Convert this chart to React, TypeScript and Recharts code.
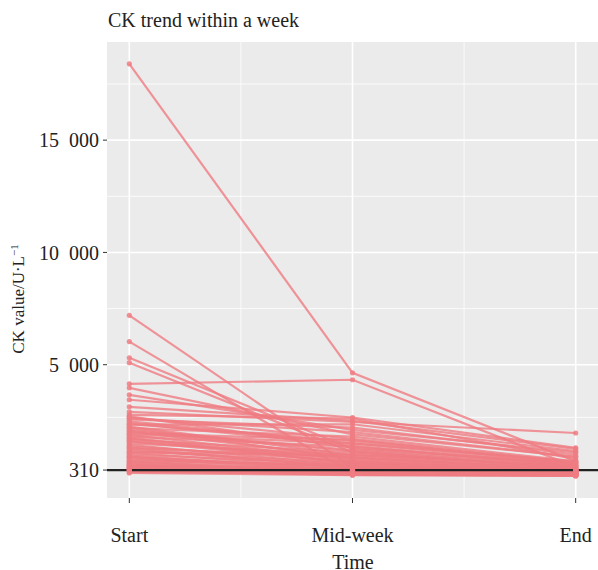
import { LineChart, Line, XAxis, YAxis, CartesianGrid, ReferenceLine } from 'recharts';

const categories = ['Start', 'Mid-week', 'End'];

const startValues = [
  18400, 7200, 6030, 5310, 5090, 4150, 3970, 3660, 3440, 3125,
  2900, 2770, 2650, 2560, 2480, 2400, 2330, 2250, 2180, 2100,
  2020, 1950, 1880, 1800, 1720, 1650, 1580, 1500, 1430, 1360,
  1290, 1220, 1150, 1080, 1010, 950, 890, 830, 770, 710,
  650, 600, 550, 500, 460, 420, 380, 340, 320,
  2700, 2200, 1900, 1600, 1300, 1100, 900, 700, 560, 480,
  400, 300, 260, 220, 180, 2620, 2350, 2050, 1750,
];
const midValues = [
  4640, 420, 150, 1250, 1100, 4330, 1900, 2100, 2650, 2500,
  2450, 2600, 1700, 2200, 1500, 1400, 2350, 980, 1800, 1200,
  900, 1650, 760, 1350, 600, 1100, 850, 1000, 520, 700,
  880, 450, 640, 380, 560, 300, 420, 250, 490, 180,
  330, 260, 200, 350, 140, 230, 120, 170, 90,
  1300, 800, 1500, 650, 420, 980, 300, 540, 210, 380,
  150, 240, 110, 160, 80, 2000, 1600, 1150, 700,
];
const endValues = [
  700, 260, 120, 500, 380, 450, 900, 1100, 1300, 1250,
  1960, 800, 650, 1000, 560, 480, 1150, 320, 700, 420,
  300, 600, 260, 520, 210, 400, 350, 450, 180, 280,
  330, 160, 240, 150, 200, 110, 170, 100, 190, 80,
  130, 120, 90, 150, 70, 100, 60, 80, 50,
  600, 350, 700, 280, 230, 480, 140, 300, 120, 200,
  90, 130, 70, 100, 60, 900, 620, 380, 250,
];

const yTicks = [310, 5000, 10000, 15000];
const yMinor = [2655, 7500, 12500, 17500];
const xTicks = [1, 2, 3];
const xMinor = [1.5, 2.5];

const patients = startValues.map((s, i) => [
  { x: 1, y: s },
  { x: 2, y: midValues[i] },
  { x: 3, y: endValues[i] },
]);

const fmt = (v: number) => String(v).replace(/\B(?=(\d{3})+(?!\d))/g, '\u2002');
const font = '"Liberation Serif", "DejaVu Serif", serif';
const lineColor = '#EF7C82';

export default function App() {
  return (
    <div style={{ position: 'absolute', left: 0, top: 0, width: 598, height: 570, fontFamily: font, color: '#222', overflow: 'hidden' }}>
      <LineChart width={598} height={570} margin={{ top: 42, right: 0, bottom: 0, left: 0 }}>
        <CartesianGrid fill="#EBEBEB" stroke="#fff" strokeWidth={0.8} horizontalValues={yMinor} verticalValues={xMinor} />
        <CartesianGrid stroke="#fff" strokeWidth={1.6} horizontalValues={yTicks} verticalValues={xTicks} />
        <XAxis
          dataKey="x"
          type="number"
          domain={[0.9, 3.1]}
          ticks={xTicks}
          allowDataOverflow
          height={72}
          axisLine={false}
          tickLine={{ stroke: '#333' }}
          tickSize={5}
          tickMargin={25}
          tickFormatter={(v: number) => categories[v - 1]}
          tick={{ fill: '#222', fontSize: 20, fontFamily: font }}
        />
        <YAxis
          type="number"
          domain={[-935, 19370]}
          ticks={yTicks}
          allowDataOverflow
          width={107}
          axisLine={false}
          tickLine={{ stroke: '#333' }}
          tickSize={4}
          tickMargin={4}
          tickFormatter={fmt}
          tick={{ fill: '#222', fontSize: 20, fontFamily: font }}
        />
        {patients.map((d, i) => (
          <Line
            key={i}
            data={d}
            dataKey="y"
            stroke={lineColor}
            strokeOpacity={0.8}
            strokeWidth={2.2}
            dot={{ r: 2.6, fill: lineColor, fillOpacity: 0.85, stroke: 'none' }}
            isAnimationActive={false}
          />
        ))}
        <ReferenceLine y={310} stroke="#222" strokeWidth={2.2} />
      </LineChart>
      <div style={{ position: 'absolute', left: 108, top: 10, fontSize: 20, lineHeight: 1, whiteSpace: 'nowrap' }}>
        CK trend within a week
      </div>
      <div
        style={{
          position: 'absolute',
          left: 18,
          top: 299,
          fontSize: 17,
          lineHeight: 1,
          whiteSpace: 'nowrap',
          transform: 'translate(-50%, -50%) rotate(-90deg)',
        }}
      >
        CK value/U·L<sup style={{ fontSize: 11 }}>−1</sup>
      </div>
      <div style={{ position: 'absolute', left: 353, top: 552, fontSize: 20, lineHeight: 1, transform: 'translateX(-50%)' }}>
        Time
      </div>
    </div>
  );
}
